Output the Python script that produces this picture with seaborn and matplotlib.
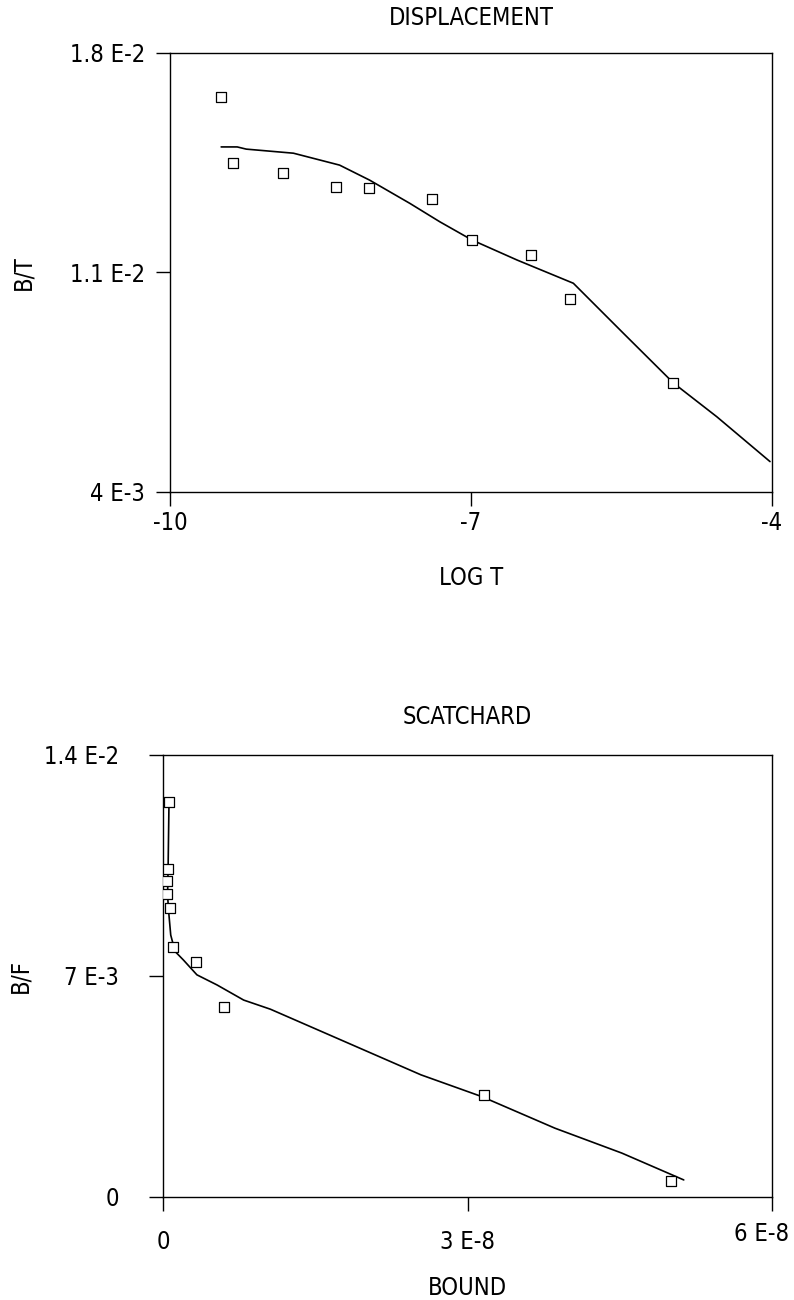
import numpy as np
import pandas as pd
import seaborn as sns
import matplotlib.pyplot as plt
from matplotlib.transforms import ScaledTranslation

# Displacement data (log T vs B/T)
disp_logt = [-9.49, -9.37, -8.87, -8.35, -8.02, -7.39, -6.99, -6.40, -6.01, -4.99]
disp_bt = [0.01658, 0.01450, 0.01418, 0.01371, 0.01369, 0.01333, 0.01203, 0.01156, 0.01014, 0.00746]

# fitted displacement curve
fit_logt = [-9.49, -9.33, -9.24, -8.77, -8.31, -8.01, -7.61, -7.31, -6.99, -6.54,
            -5.98, -5.48, -4.98, -4.55, -4.02]
fit_bt = [0.01500, 0.01500, 0.01493, 0.01480, 0.01442, 0.01394, 0.01320, 0.01261,
          0.01203, 0.01139, 0.01065, 0.00905, 0.00746, 0.00639, 0.00496]

# Scatchard data (bound vs B/F)
scat_bound = [0.056e-8, 0.050e-8, 0.040e-8, 0.040e-8, 0.063e-8, 0.099e-8,
              0.324e-8, 0.594e-8, 3.16e-8, 5.00e-8]
scat_bf = [12.52e-3, 10.38e-3, 10.01e-3, 9.58e-3, 9.16e-3, 7.90e-3,
           7.43e-3, 6.00e-3, 3.22e-3, 0.51e-3]

# fitted scatchard curve
sfit_bound = [0.056e-8, 0.047e-8, 0.042e-8, 0.051e-8, 0.073e-8, 0.116e-8, 0.198e-8,
              0.331e-8, 0.529e-8, 0.792e-8, 1.056e-8, 2.54e-8, 3.14e-8, 3.86e-8,
              4.52e-8, 5.13e-8]
sfit_bf = [12.52e-3, 10.39e-3, 9.56e-3, 9.09e-3, 8.29e-3, 7.77e-3, 7.50e-3,
           7.03e-3, 6.71e-3, 6.23e-3, 5.94e-3, 3.86e-3, 3.17e-3, 2.17e-3,
           1.38e-3, 0.53e-3]

top_ticks = [-10, -7, -4]
top_ticklabels = ['-10', '-7', '-4']
top_yticks = [0.004, 0.011, 0.018]
top_yticklabels = ['4 E-3', '1.1 E-2', '1.8 E-2']
bot_ticks = [0, 3e-8, 6e-8]
bot_ticklabels = ['0', '3 E-8', '6 E-8']
bot_yticks = [0, 0.007, 0.014]
bot_yticklabels = ['0', '7 E-3', '1.4 E-2']

sns.set_style('white')
plt.rcParams['font.family'] = ['DejaVu Sans']
plt.rcParams['font.stretch'] = 'condensed'
plt.rcParams['text.color'] = 'black'
plt.rcParams['axes.labelcolor'] = 'black'
plt.rcParams['xtick.color'] = 'black'
plt.rcParams['ytick.color'] = 'black'

FS = 17

fig = plt.figure(figsize=(7.94, 13.0), dpi=100)
ax1 = fig.add_axes([0.2141, 0.6218, 0.7582, 0.3375])
ax2 = fig.add_axes([0.2057, 0.0795, 0.7666, 0.3398])

df_disp = pd.DataFrame({'x': disp_logt, 'y': disp_bt})
df_fit = pd.DataFrame({'x': fit_logt, 'y': fit_bt})
df_scat = pd.DataFrame({'x': scat_bound, 'y': scat_bf})
df_sfit = pd.DataFrame({'x': sfit_bound, 'y': sfit_bf})

for ax, pts, fit in [(ax1, df_disp, df_fit), (ax2, df_scat, df_sfit)]:
    sns.lineplot(data=fit, x='x', y='y', sort=False, color='black', linewidth=1.2, ax=ax)
    sns.scatterplot(data=pts, x='x', y='y', marker='s', s=44, facecolor='white',
                    edgecolor='black', linewidth=0.9, ax=ax, zorder=3)
    for sp in ax.spines.values():
        sp.set_color('black')
        sp.set_linewidth(1.0)
    ax.tick_params(axis='both', direction='out', length=10, width=1.0, color='black',
                   labelsize=FS, labelcolor='black', bottom=True, left=True,
                   top=False, right=False)

ax1.set_xlim(-10, -4)
ax1.set_ylim(0.004, 0.018)
ax1.set_xticks(top_ticks)
ax1.set_xticklabels(top_ticklabels)
ax1.set_yticks(top_yticks)
ax1.set_yticklabels(top_yticklabels)
ax1.tick_params(axis='y', pad=8)
ax1.tick_params(axis='x', pad=4)
ax1.set_title('DISPLACEMENT', fontsize=FS, pad=20)
ax1.set_xlabel('LOG T', fontsize=FS, labelpad=22)
ax1.set_ylabel('B/T', fontsize=FS, labelpad=25)

ax2.set_xlim(0, 6e-8)
ax2.set_ylim(0, 0.014)
ax2.set_xticks(bot_ticks)
ax2.set_xticklabels(bot_ticklabels)
ax2.set_yticks(bot_yticks)
ax2.set_yticklabels(bot_yticklabels)
ax2.tick_params(axis='y', pad=22)
ax2.tick_params(axis='x', pad=14)
ax2.set_title('SCATCHARD', fontsize=FS, pad=22)
ax2.set_xlabel('BOUND', fontsize=FS, labelpad=16)
ax2.set_ylabel('B/F', fontsize=FS, labelpad=8)

# the last bottom tick label sits a bit left and higher in the original
last = ax2.get_xticklabels()[-1]
last.set_transform(last.get_transform() + ScaledTranslation(-10 / 100, 8 / 100, fig.dpi_scale_trans))

fig.savefig('out.png', dpi=100, facecolor='white')
